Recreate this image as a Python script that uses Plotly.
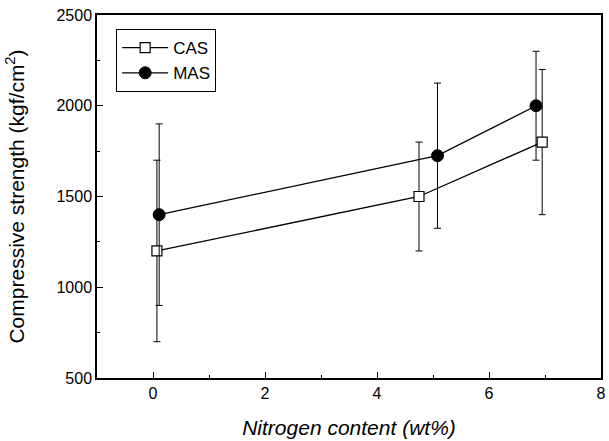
import plotly.graph_objects as go

cas_x = [0.07, 4.75, 6.95]
cas_y = [1200, 1500, 1800]
cas_err = [500, 300, 400]

mas_x = [0.11, 5.08, 6.84]
mas_y = [1400, 1725, 2000]
mas_err = [500, 400, 300]

x_ticks = [0, 2, 4, 6, 8]
y_ticks = [500, 1000, 1500, 2000, 2500]

font_family = "Liberation Sans, Arial, sans-serif"

fig = go.Figure()
fig.add_trace(go.Scatter(
    x=cas_x, y=cas_y, name="CAS", mode="lines+markers",
    line=dict(color="black", width=1.3),
    marker=dict(symbol="square", size=10, color="white", line=dict(color="black", width=1.2)),
    error_y=dict(type="data", array=cas_err, visible=True, color="black", thickness=1, width=3.5),
))
fig.add_trace(go.Scatter(
    x=mas_x, y=mas_y, name="MAS", mode="lines+markers",
    line=dict(color="black", width=1.3),
    marker=dict(symbol="circle", size=12, color="black", line=dict(color="black", width=1)),
    error_y=dict(type="data", array=mas_err, visible=True, color="black", thickness=1, width=3.5),
))

fig.update_layout(
    width=609, height=441,
    margin=dict(l=97, r=8, t=15, b=63, autoexpand=False),
    paper_bgcolor="white", plot_bgcolor="white",
    font=dict(family=font_family, size=16, color="black"),
    showlegend=True,
    legend=dict(
        x=0.038, y=0.961, xanchor="left", yanchor="top",
        bordercolor="black", borderwidth=1, bgcolor="white",
        font=dict(size=17), tracegroupgap=0, itemwidth=46,
    ),
    xaxis=dict(
        range=[-1, 8], tickvals=x_ticks, ticktext=[str(v) for v in x_ticks],
        ticks="inside", ticklen=6, tickwidth=1.3, tickcolor="black",
        showline=True, linecolor="black", linewidth=1.5, mirror=True,
        showgrid=False, zeroline=False, automargin=False, ticklabeloverflow="allow",
        minor=dict(tickvals=[1, 3, 5, 7], ticks="inside", ticklen=3, tickwidth=1, tickcolor="black"),
        title=dict(text="<i>Nitrogen content (wt%)</i>", standoff=19, font=dict(size=21)),
        tickfont=dict(size=16),
    ),
    yaxis=dict(
        range=[500, 2500], tickvals=y_ticks, ticktext=[str(v) for v in y_ticks],
        ticks="inside", ticklen=6, tickwidth=1.3, tickcolor="black",
        showline=True, linecolor="black", linewidth=1.5, mirror=True,
        showgrid=False, zeroline=False, automargin=False, ticklabeloverflow="allow",
        minor=dict(tickvals=[750, 1250, 1750, 2250], ticks="inside", ticklen=3, tickwidth=1, tickcolor="black"),
        title=dict(text="Compressive strength (kgf/cm<sup>2</sup>)", standoff=26, font=dict(size=21)),
        tickfont=dict(size=16),
    ),
)

fig.write_html(
    "out.html",
    config={"displayModeBar": False},
    post_script="document.body.style.margin='0';document.body.style.overflow='hidden';",
)
